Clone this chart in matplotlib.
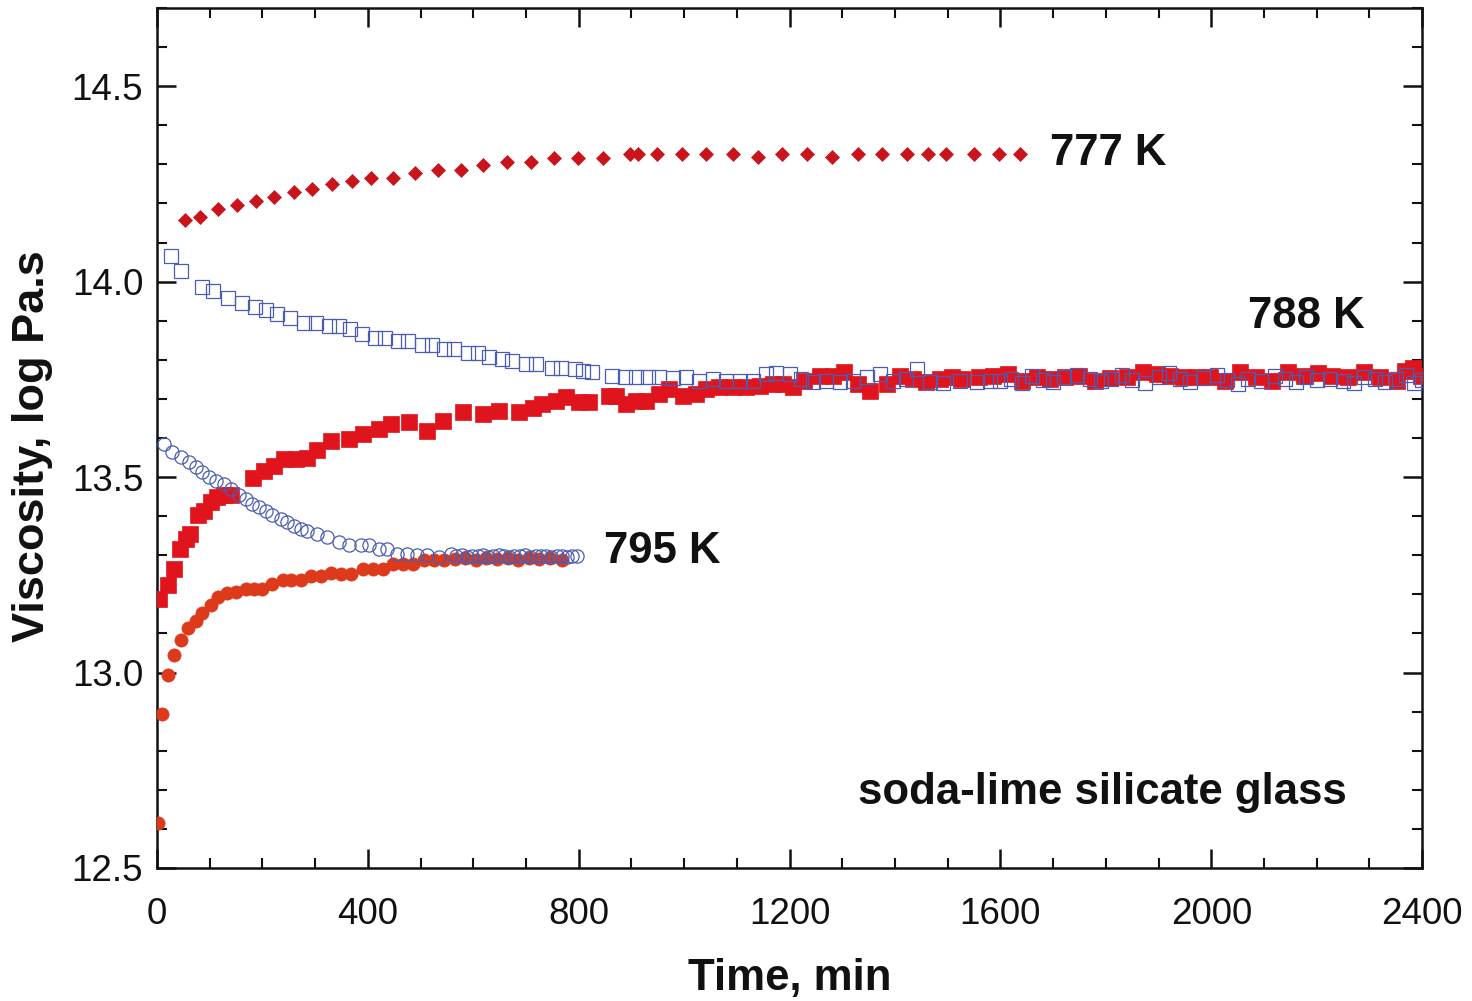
import matplotlib
matplotlib.use("Agg")
import matplotlib.pyplot as plt
from matplotlib.ticker import MultipleLocator

plt.rcParams['font.family'] = ['Liberation Sans', 'DejaVu Sans']

# 777 K, filled diamonds
t777 = [53, 82, 116, 152, 187, 222, 259, 294, 331, 370, 405, 447, 490, 533, 576,
        619, 664, 709, 754, 798, 846, 897, 913, 948, 995, 1042, 1093, 1141, 1185,
        1233, 1281, 1330, 1375, 1423, 1462, 1497, 1550, 1598, 1637]
v777 = [14.157, 14.166, 14.186, 14.196, 14.206, 14.216, 14.229, 14.237, 14.249,
        14.257, 14.265, 14.265, 14.278, 14.285, 14.285, 14.299, 14.307, 14.307,
        14.316, 14.316, 14.316, 14.326, 14.326, 14.326, 14.326, 14.326, 14.326,
        14.319, 14.326, 14.326, 14.319, 14.326, 14.326, 14.326, 14.326, 14.326,
        14.326, 14.326, 14.326]

# 788 K, filled squares (rising branch)
t788_up = [4, 21, 32, 43, 54, 62, 78, 89, 102, 114, 127, 140, 182, 203, 222, 241,
           263, 285, 304, 330, 365, 390, 421, 444, 478, 513, 542, 580, 618, 649,
           687, 713, 731, 757, 776, 801, 820, 858, 871, 890, 909, 928, 953, 972,
           997, 1023, 1042, 1067, 1092, 1118, 1143, 1168, 1187, 1206, 1228, 1257,
           1282, 1304, 1330, 1352, 1384, 1409, 1434, 1459, 1485, 1509, 1528, 1560,
           1585, 1614, 1640, 1669, 1694, 1722, 1750, 1779, 1808, 1840, 1871, 1897,
           1922, 1947, 1973, 1998, 2027, 2055, 2084, 2116, 2146, 2175, 2202, 2230,
           2259, 2289, 2321, 2353, 2368, 2382, 2397]
v788_up = [13.189, 13.225, 13.264, 13.317, 13.342, 13.355, 13.402, 13.414, 13.436,
           13.448, 13.455, 13.455, 13.498, 13.515, 13.529, 13.546, 13.546, 13.549,
           13.568, 13.593, 13.598, 13.610, 13.623, 13.636, 13.640, 13.619, 13.644,
           13.666, 13.661, 13.670, 13.666, 13.677, 13.687, 13.695, 13.704, 13.691,
           13.691, 13.708, 13.708, 13.687, 13.695, 13.695, 13.712, 13.725, 13.708,
           13.712, 13.725, 13.730, 13.730, 13.730, 13.734, 13.738, 13.738, 13.730,
           13.747, 13.759, 13.759, 13.768, 13.738, 13.721, 13.738, 13.759, 13.751,
           13.742, 13.751, 13.755, 13.751, 13.755, 13.759, 13.764, 13.747, 13.755,
           13.751, 13.755, 13.759, 13.747, 13.753, 13.755, 13.768, 13.764, 13.759,
           13.755, 13.755, 13.755, 13.747, 13.768, 13.755, 13.747, 13.768, 13.759,
           13.765, 13.759, 13.755, 13.768, 13.755, 13.747, 13.772, 13.780, 13.759]

# 788 K, open squares (falling branch)
t788_dn = [26, 46, 86, 107, 135, 162, 186, 206, 227, 253, 279, 301, 327, 346, 366,
           389, 414, 433, 458, 477, 503, 522, 544, 563, 589, 608, 630, 655, 674,
           700, 719, 750, 767, 792, 808, 826, 864, 887, 909, 931, 953, 978, 1004,
           1029, 1054, 1080, 1105, 1130, 1156, 1175, 1200, 1222, 1244, 1270, 1295,
           1320, 1346, 1371, 1396, 1420, 1441, 1466, 1491, 1523, 1555, 1580, 1600,
           1620, 1640, 1660, 1680, 1700, 1720, 1745, 1770, 1790, 1810, 1830, 1850,
           1875, 1900, 1920, 1940, 1960, 1985, 2010, 2030, 2050, 2070, 2095, 2120,
           2140, 2160, 2180, 2200, 2225, 2250, 2270, 2290, 2310, 2330, 2350, 2370,
           2385, 2400]
v788_dn = [14.066, 14.027, 13.987, 13.976, 13.958, 13.946, 13.936, 13.927, 13.917,
           13.907, 13.895, 13.895, 13.887, 13.887, 13.879, 13.866, 13.857, 13.857,
           13.849, 13.849, 13.838, 13.838, 13.827, 13.827, 13.817, 13.817, 13.806,
           13.802, 13.798, 13.789, 13.789, 13.780, 13.780, 13.776, 13.772, 13.768,
           13.759, 13.755, 13.755, 13.755, 13.755, 13.753, 13.755, 13.747, 13.751,
           13.747, 13.747, 13.747, 13.764, 13.766, 13.764, 13.752, 13.742, 13.747,
           13.742, 13.747, 13.755, 13.764, 13.747, 13.752, 13.776, 13.742, 13.740,
           13.747, 13.742, 13.745, 13.745, 13.752, 13.740, 13.758, 13.748, 13.742,
           13.755, 13.760, 13.750, 13.745, 13.752, 13.762, 13.748, 13.740, 13.755,
           13.765, 13.750, 13.742, 13.753, 13.760, 13.748, 13.738, 13.752, 13.745,
           13.758, 13.750, 13.742, 13.755, 13.748, 13.752, 13.745, 13.740, 13.755,
           13.750, 13.742, 13.752, 13.760, 13.740, 13.748]

# 795 K, filled circles (rising branch)
t795_up = [1, 10, 20, 32, 45, 59, 73, 86, 102, 116, 133, 149, 168, 184, 200, 219,
           238, 254, 273, 292, 311, 330, 349, 368, 390, 409, 428, 447, 466, 485,
           507, 526, 545, 565, 585, 605, 625, 645, 665, 685, 705, 725, 745, 769]
v795_up = [12.614, 12.895, 12.993, 13.044, 13.084, 13.115, 13.133, 13.152, 13.172,
           13.193, 13.203, 13.206, 13.214, 13.214, 13.214, 13.227, 13.236, 13.236,
           13.237, 13.246, 13.246, 13.254, 13.253, 13.253, 13.266, 13.266, 13.266,
           13.277, 13.277, 13.277, 13.287, 13.287, 13.287, 13.290, 13.292, 13.288,
           13.293, 13.290, 13.292, 13.288, 13.294, 13.290, 13.292, 13.289]

# 795 K, open circles (falling branch)
t795_dn = [13, 29, 45, 61, 73, 86, 99, 111, 127, 140, 156, 168, 181, 194, 206,
           219, 235, 247, 260, 273, 285, 304, 323, 346, 365, 387, 403, 422, 437,
           456, 475, 494, 513, 535, 558, 568, 578, 588, 598, 608, 618, 628, 638,
           648, 658, 668, 678, 688, 698, 708, 718, 728, 738, 748, 758, 768, 778,
           788, 797]
v795_dn = [13.585, 13.563, 13.551, 13.538, 13.525, 13.512, 13.500, 13.491, 13.483,
           13.470, 13.453, 13.444, 13.432, 13.423, 13.414, 13.402, 13.393, 13.385,
           13.376, 13.368, 13.363, 13.355, 13.346, 13.334, 13.325, 13.325, 13.325,
           13.317, 13.317, 13.304, 13.304, 13.300, 13.300, 13.295, 13.304, 13.298,
           13.300, 13.296, 13.299, 13.297, 13.300, 13.296, 13.298, 13.300, 13.297,
           13.296, 13.299, 13.297, 13.300, 13.296, 13.298, 13.297, 13.299, 13.296,
           13.298, 13.297, 13.296, 13.298, 13.297]

series_labels = ["777 K", "788 K", "795 K"]
label_pos = [(1694, 14.329), (2069, 13.910), (847, 13.310)]
glass_label = "soda-lime silicate glass"

red_diamond = "#c8141a"
red_square = "#e0141c"
red_circle = "#dc3a1a"
blue = "#4a5db4"

fig = plt.figure(figsize=(14.72, 10.01), dpi=100)
ax = fig.add_axes([0.1067, 0.1329, 0.8594, 0.8591])

ax.plot(t777, v777, ls="none", marker="D", ms=7.5, mfc=red_diamond,
        mec=red_diamond, mew=0.5, zorder=3)
ax.plot(t788_up, v788_up, ls="none", marker="s", ms=11.5, mfc=red_square,
        mec=red_square, mew=0.5, zorder=3)
ax.plot(t788_dn, v788_dn, ls="none", marker="s", ms=10.5, mfc="none",
        mec=blue, mew=0.9, zorder=4)
ax.plot(t795_up, v795_up, ls="none", marker="o", ms=9.5, mfc=red_circle,
        mec=red_circle, mew=0.5, zorder=3)
ax.plot(t795_dn, v795_dn, ls="none", marker="o", ms=9.5, mfc="none",
        mec=blue, mew=0.9, zorder=4)

for txt, (xx, yy) in zip(series_labels, label_pos):
    ax.text(xx, yy, txt, fontsize=31.5, fontweight="bold", color="#111111",
            ha="left", va="center")
ax.text(1329, 12.692, glass_label, fontsize=31.5, fontweight="bold",
        color="#111111", ha="left", va="center")

ax.set_xlim(0, 2400)
ax.set_ylim(12.5, 14.7)
ax.xaxis.set_major_locator(MultipleLocator(400))
ax.xaxis.set_minor_locator(MultipleLocator(100))
ax.yaxis.set_major_locator(MultipleLocator(0.5))
ax.yaxis.set_minor_locator(MultipleLocator(0.1))
ax.set_yticks([12.5, 13.0, 13.5, 14.0, 14.5])
ax.set_yticklabels(["12.5", "13.0", "13.5", "14.0", "14.5"])

ax.tick_params(which="both", direction="in", top=True, right=True,
               color="#111111", labelsize=26.5, labelcolor="#111111")
ax.tick_params(which="major", length=13.5, width=1.8)
ax.tick_params(axis="x", which="major", pad=21)
ax.tick_params(axis="y", which="major", pad=10)
ax.tick_params(which="minor", length=7.5, width=1.5)
for sp in ax.spines.values():
    sp.set_linewidth(1.8)
    sp.set_color("#111111")

ax.set_xlabel("Time, min", fontsize=31.5, fontweight="bold", color="#111111")
ax.set_ylabel("Viscosity, log Pa.s", fontsize=32.5, fontweight="bold",
              color="#111111")
ax.xaxis.label.set_va("center")
ax.yaxis.label.set_va("center")
ax.xaxis.set_label_coords(0.5, -0.128)
ax.yaxis.set_label_coords(-0.0985, 0.49)

fig.savefig("out.png", dpi=100, facecolor="white")
